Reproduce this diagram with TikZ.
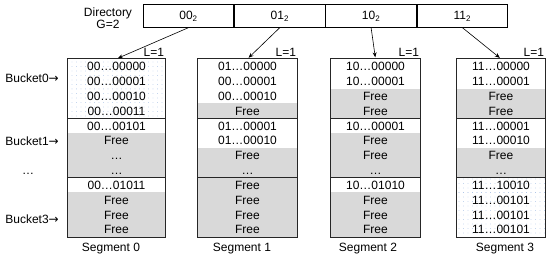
\documentclass[tikz,border=0pt]{standalone}
\usepackage{fontspec}
\setmainfont{Liberation Sans}
\newfontfamily\arrowfont{DejaVu Sans}
\usepackage{tikz}
\usetikzlibrary{arrows.meta, positioning, patterns.meta}
\definecolor{dotblue}{RGB}{165,190,228}
\tikzstyle{dircell} = [
    rectangle, draw=black, line width=0.8pt,
    minimum width=90.5pt, minimum height=22.5pt, inner sep=0pt,
    font=\fontsize{12}{12}\selectfont]
\tikzstyle{cell} = [
    rectangle, minimum height=14.83pt, inner sep=0pt,
    text height=8.6pt, text depth=0pt,
    font=\fontsize{12}{12}\selectfont]
\tikzstyle{keycell} = []
\tikzstyle{freecell} = [fill=gray!30]
\tikzstyle{dotcell} = [pattern={Dots[distance=4.5pt, radius=0.45pt]}, pattern color=dotblue]
\tikzstyle{segline} = [draw=black!85, line width=1.3pt]
\tikzstyle{txt} = [font=\fontsize{12}{12}\selectfont, inner sep=0pt]
\tikzstyle{arrow} = [line width=0.6pt, -{Stealth[length=5pt, width=4pt]}, shorten >=1.5pt]

\begin{document}
\begin{tikzpicture}[x=1pt, y=-1pt]
  \useasboundingbox (0,0) rectangle (550,260);

  \node (dirlabel) [txt, align=center] at (108,18) {Directory\\G=2};
  \node (d00) [dircell] at (188.5,16) {00\textsubscript{2}};
  \node (d01) [dircell, right=0pt of d00] {01\textsubscript{2}};
  \node (d10) [dircell, right=0pt of d01] {10\textsubscript{2}};
  \node (d11) [dircell, right=0pt of d10] {11\textsubscript{2}};

  \foreach \txt/\sty [count=\i] in {00…00000/dotcell, 00…00001/dotcell, 00…00010/dotcell, 00…00011/dotcell,
      00…00101/keycell, Free/freecell, …/freecell, …/freecell,
      00…01011/keycell, Free/freecell, Free/freecell, Free/freecell}
    \node (s0r\i) [cell, \sty, minimum width=97pt] at (116.5,{59+(\i-0.5)*14.83}) {\txt};
  \foreach \txt/\sty [count=\i] in {01…00000/keycell, 00…00001/keycell, 00…00010/keycell, Free/freecell,
      01…00001/keycell, 01…00010/keycell, Free/freecell, …/freecell,
      Free/freecell, Free/freecell, Free/freecell, Free/freecell}
    \node (s1r\i) [cell, \sty, minimum width=99pt] at (247.5,{59+(\i-0.5)*14.83}) {\txt};
  \foreach \txt/\sty [count=\i] in {10…00000/keycell, 10…00001/keycell, Free/freecell, Free/freecell,
      10…00001/keycell, Free/freecell, Free/freecell, …/freecell,
      10…01010/keycell, Free/freecell, Free/freecell, Free/freecell}
    \node (s2r\i) [cell, \sty, minimum width=89pt] at (375.5,{59+(\i-0.5)*14.83}) {\txt};
  \foreach \txt/\sty [count=\i] in {11…00000/keycell, 11…00001/keycell, Free/freecell, Free/freecell,
      11…00001/keycell, 11…00010/keycell, Free/freecell, …/freecell,
      11…10010/dotcell, 11…00101/dotcell, 11…00101/dotcell, 11…00101/dotcell}
    \node (s3r\i) [cell, \sty, minimum width=88pt] at (501,{59+(\i-0.5)*14.83}) {\txt};

  \foreach \s in {0,1,2,3} {
    \draw [segline] (s\s r1.north west) rectangle (s\s r12.south east);
    \draw [segline] (s\s r4.south west) -- (s\s r4.south east);
    \draw [segline] (s\s r8.south west) -- (s\s r8.south east);
    \node (lvl\s) [txt, anchor=base east, xshift=-1pt, yshift=2pt] at (s\s r1.north east) {L=1};
  }

  \node (b0) [txt, anchor=east] at (59,78) {Bucket0{\arrowfont →}};
  \node (b1) [txt, anchor=east] at (59,141) {Bucket1{\arrowfont →}};
  \node (bdots) [txt] at (28,174) {…};
  \node (b3) [txt, anchor=east] at (59,219) {Bucket3{\arrowfont →}};

  \node (seg0) [txt] at (111,249) {Segment 0};
  \node (seg1) [txt] at (242,249) {Segment 1};
  \node (seg2) [txt] at (368,249) {Segment 2};
  \node (seg3) [txt] at (505,249) {Segment 3};

  \draw [arrow] (d00.south) -- (s0r1.north);
  \draw [arrow] (d01.south) -- (s1r1.north);
  \draw [arrow] (d10.south) -- (s2r1.north);
  \draw [arrow] (d11.south) -- (s3r1.north);

\end{tikzpicture}
\end{document}
